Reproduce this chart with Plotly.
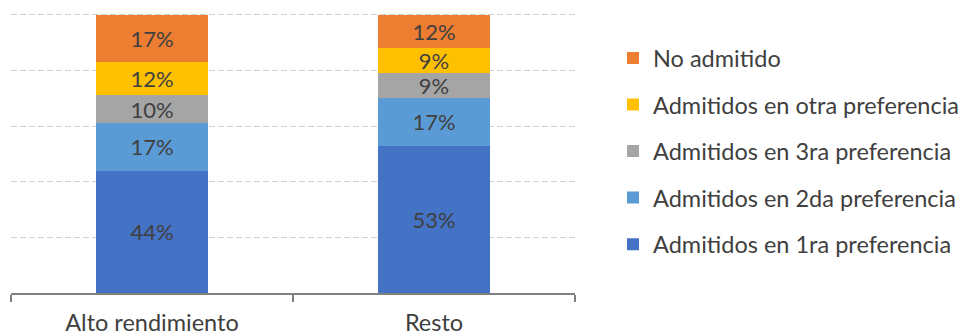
import plotly.graph_objects as go

categories = ["Alto rendimiento", "Resto"]
series_names = [
    "Admitidos en 1ra preferencia",
    "Admitidos en 2da preferencia",
    "Admitidos en 3ra preferencia",
    "Admitidos en otra preferencia",
    "No admitido",
]
values_1ra = [44, 53]
values_2da = [17, 17]
values_3ra = [10, 9]
values_otra = [12, 9]
values_no = [17, 12]
all_values = [values_1ra, values_2da, values_3ra, values_otra, values_no]
colors = ["#4472C4", "#5B9BD5", "#A5A5A5", "#FFC000", "#ED7D31"]

FONT = "Lato, Open Sans, sans-serif"
TXT = "#404040"

fig = go.Figure()
n = len(series_names)
for i, (name, vals, col) in enumerate(zip(series_names, all_values, colors)):
    fig.add_trace(go.Bar(
        x=categories, y=vals, name=name, marker=dict(color=col, line=dict(width=0)),
        texttemplate="%{y}%", textposition="inside", insidetextanchor="middle",
        textangle=0, constraintext="none",
        textfont=dict(size=22, color=TXT, family=FONT),
        legendgroup=name, legendrank=n - i,
    ))

fig.update_layout(
    barmode="stack", bargap=0.6,
    width=965, height=336,
    margin=dict(l=11, r=390, t=12, b=43, autoexpand=False),
    plot_bgcolor="white", paper_bgcolor="white",
    font=dict(family=FONT, color=TXT, size=23),
    uniformtext=dict(mode=False),
    legend=dict(
        x=1.0674, y=0.914, xanchor="left", yanchor="top",
        traceorder="grouped", tracegroupgap=13,
        font=dict(size=23.5, color=TXT, family=FONT),
        bgcolor="rgba(0,0,0,0)",
    ),
    showlegend=True,
)
fig.update_yaxes(
    range=[0, 101], showticklabels=False, showgrid=True, gridcolor="#D0D0D0",
    griddash="6px,3px", gridwidth=1, tickvals=[20, 40, 60, 80, 100],
    zeroline=False, showline=False, ticks="", automargin=False,
)
fig.update_xaxes(
    showline=True, linecolor="#808080", linewidth=1.5, ticks="outside",
    tickson="boundaries", ticklen=7, tickcolor="#808080", tickwidth=1.5,
    ticklabelstandoff=8, tickfont=dict(size=23.5, color=TXT, family=FONT),
    showgrid=False, automargin=False,
)
fig.write_html("out.html")
